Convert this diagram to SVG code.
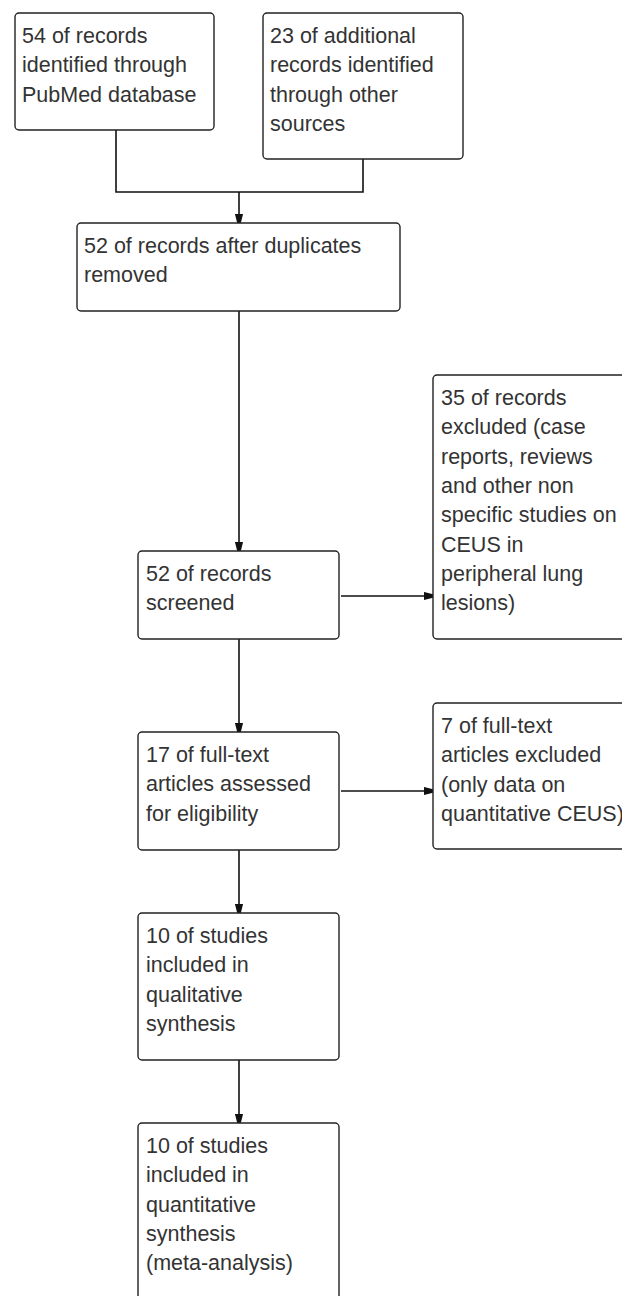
<svg xmlns="http://www.w3.org/2000/svg" width="622" height="1296" viewBox="0 0 622 1296">
<defs>
<style>
.box{fill:#fff;stroke:#222;stroke-width:1.4}
.t{font-family:"Liberation Sans",Arial,sans-serif;font-size:21.5px;fill:#333}
.c{fill:none;stroke:#111;stroke-width:1.6}
</style>
<marker id="ah" viewBox="0 0 10 10" refX="10" refY="5" markerWidth="9" markerHeight="9" markerUnits="userSpaceOnUse" orient="auto">
<path d="M0,0.5 L10,3 L10,7 L0,9.5 Z" fill="#111"/>
</marker>
</defs>
<rect width="622" height="1296" fill="#fff"/>
<g id="connectors">
<path class="c" d="M116,130 V192 H363 V159"/>
<path class="c" d="M239,192 V223" marker-end="url(#ah)"/>
<path class="c" d="M239,311 V551" marker-end="url(#ah)"/>
<path class="c" d="M341,596 H433" marker-end="url(#ah)"/>
<path class="c" d="M239,639 V732" marker-end="url(#ah)"/>
<path class="c" d="M341,791 H433" marker-end="url(#ah)"/>
<path class="c" d="M239,850 V913" marker-end="url(#ah)"/>
<path class="c" d="M239,1060 V1123" marker-end="url(#ah)"/>
</g>
<g id="n1">
<rect class="box" x="15" y="13" width="199" height="117" rx="4"/>
<text class="t" x="22" y="43">54 of records</text>
<text class="t" x="22" y="72.3">identified through</text>
<text class="t" x="22" y="101.6">PubMed database</text>
</g>
<g id="n2">
<rect class="box" x="263" y="13" width="200" height="146" rx="4"/>
<text class="t" x="270" y="43">23 of additional</text>
<text class="t" x="270" y="72.3">records identified</text>
<text class="t" x="270" y="101.6">through other</text>
<text class="t" x="270" y="130.9">sources</text>
</g>
<g id="n3">
<rect class="box" x="77" y="223" width="323" height="88" rx="4"/>
<text class="t" x="84" y="253">52 of records after duplicates</text>
<text class="t" x="84" y="282.3">removed</text>
</g>
<g id="n4">
<rect class="box" x="138" y="551" width="201" height="88" rx="4"/>
<text class="t" x="146" y="581">52 of records</text>
<text class="t" x="146" y="610.3">screened</text>
</g>
<g id="n5">
<rect class="box" x="433" y="375" width="200" height="264" rx="4"/>
<text class="t" x="441" y="405">35 of records</text>
<text class="t" x="441" y="434.3">excluded (case</text>
<text class="t" x="441" y="463.6">reports, reviews</text>
<text class="t" x="441" y="492.9">and other non</text>
<text class="t" x="441" y="522.2">specific studies on</text>
<text class="t" x="441" y="551.5">CEUS in</text>
<text class="t" x="441" y="580.8">peripheral lung</text>
<text class="t" x="441" y="610.1">lesions)</text>
</g>
<g id="n6">
<rect class="box" x="138" y="732" width="201" height="118" rx="4"/>
<text class="t" x="146" y="762">17 of full-text</text>
<text class="t" x="146" y="791.3">articles assessed</text>
<text class="t" x="146" y="820.6">for eligibility</text>
</g>
<g id="n7">
<rect class="box" x="433" y="703" width="200" height="146" rx="4"/>
<text class="t" x="441" y="733">7 of full-text</text>
<text class="t" x="441" y="762.3">articles excluded</text>
<text class="t" x="441" y="791.6">(only data on</text>
<text class="t" x="441" y="820.9">quantitative CEUS)</text>
</g>
<g id="n8">
<rect class="box" x="138" y="913" width="201" height="147" rx="4"/>
<text class="t" x="146" y="943">10 of studies</text>
<text class="t" x="146" y="972.3">included in</text>
<text class="t" x="146" y="1001.6">qualitative</text>
<text class="t" x="146" y="1030.9">synthesis</text>
</g>
<g id="n9">
<rect class="box" x="138" y="1123" width="201" height="190" rx="4"/>
<text class="t" x="146" y="1153">10 of studies</text>
<text class="t" x="146" y="1182.3">included in</text>
<text class="t" x="146" y="1211.6">quantitative</text>
<text class="t" x="146" y="1240.9">synthesis</text>
<text class="t" x="146" y="1270.2">(meta-analysis)</text>
</g>
</svg>
